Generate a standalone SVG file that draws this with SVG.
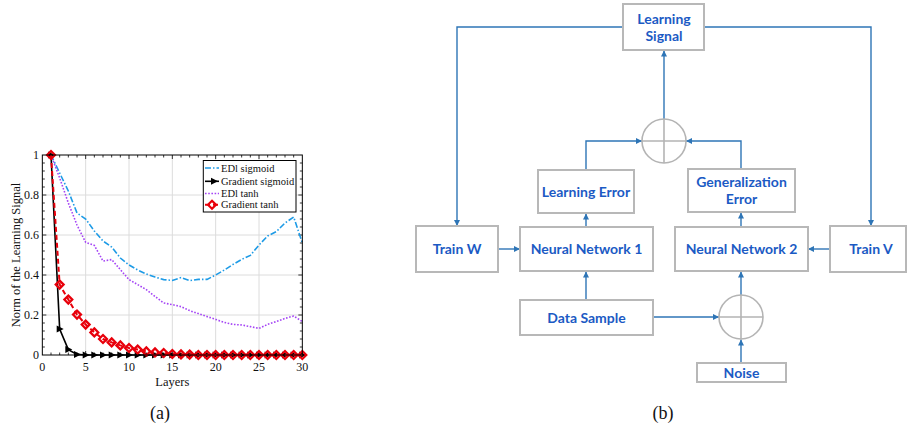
<svg xmlns="http://www.w3.org/2000/svg" xmlns:xlink="http://www.w3.org/1999/xlink" width="908" height="431" viewBox="0 0 908 431">
<style>
.serif{font-family:"Liberation Serif","Times New Roman",serif;fill:#111}
.tick{font-size:12px}
.leg{font-size:10.5px}
.grid{stroke:#dcdcdc;stroke-width:1;fill:none}
.frame{stroke:#000;stroke-width:1;fill:none}
.minor{stroke:#000;stroke-width:0.8}
.box{fill:#fff;stroke:#b8b8b8;stroke-width:2}
.lbl{font-family:Lato,"Open Sans","DejaVu Sans",sans-serif;font-weight:700;font-size:14px;fill:#1b5ac4;text-anchor:middle}
.conn{stroke:#2e75b6;stroke-width:1.4;fill:none}
.sum{fill:#fff;stroke:#b4b4b4;stroke-width:1.6}
.cross{stroke:#b4b4b4;stroke-width:1.6}
.edis{stroke:#1e9be6;stroke-width:1.6;fill:none;stroke-dasharray:6 2 1.5 2}
.edit{stroke:#a545f5;stroke-width:1.6;fill:none;stroke-dasharray:1.6 1.6}
.gs{stroke:#000;stroke-width:1.6;fill:none}
.gt{stroke:#e8000b;stroke-width:2;fill:none;stroke-dasharray:5 3}
.tri{fill:#000}
.dia{fill:none;stroke:#e8000b;stroke-width:2.2}
</style>
<defs>
<marker id="arr" viewBox="0 0 10 10" refX="10" refY="5" markerWidth="7" markerHeight="6" markerUnits="userSpaceOnUse" orient="auto">
<path d="M0,0 L10,5 L0,10 Z" fill="#2e75b6"/>
</marker>
<path id="t" class="tri" d="M-3,-3.5 L4,0 L-3,3.5 Z"/>
<path id="d" class="dia" d="M0,-4 L4,0 L0,4 L-4,0 Z"/>
</defs>

<!-- ===== Panel (a): plot ===== -->
<g id="plot-a">
<g id="grid">
<path class="grid" d="M85.67,155V355M129,155V355M172.33,155V355M215.67,155V355M259,155V355M42.33,195H302.33M42.33,235H302.33M42.33,275H302.33M42.33,315H302.33"/>
</g>
<g id="minor-ticks">
<path class="minor" d="M51,155v2.5M59.67,155v2.5M68.33,155v2.5M77,155v2.5M94.33,155v2.5M103,155v2.5M111.67,155v2.5M120.33,155v2.5M137.67,155v2.5M146.33,155v2.5M155,155v2.5M163.67,155v2.5M181,155v2.5M189.67,155v2.5M198.33,155v2.5M207,155v2.5M224.33,155v2.5M233,155v2.5M241.67,155v2.5M250.33,155v2.5M267.67,155v2.5M276.33,155v2.5M285,155v2.5M293.67,155v2.5"/>
<path class="minor" d="M51,355v-2.5M59.67,355v-2.5M68.33,355v-2.5M77,355v-2.5M94.33,355v-2.5M103,355v-2.5M111.67,355v-2.5M120.33,355v-2.5M137.67,355v-2.5M146.33,355v-2.5M155,355v-2.5M163.67,355v-2.5M181,355v-2.5M189.67,355v-2.5M198.33,355v-2.5M207,355v-2.5M224.33,355v-2.5M233,355v-2.5M241.67,355v-2.5M250.33,355v-2.5M267.67,355v-2.5M276.33,355v-2.5M285,355v-2.5M293.67,355v-2.5"/>
<path class="minor" d="M302.33,163h-2.5M302.33,171h-2.5M302.33,179h-2.5M302.33,187h-2.5M302.33,203h-2.5M302.33,211h-2.5M302.33,219h-2.5M302.33,227h-2.5M302.33,243h-2.5M302.33,251h-2.5M302.33,259h-2.5M302.33,267h-2.5M302.33,283h-2.5M302.33,291h-2.5M302.33,299h-2.5M302.33,307h-2.5M302.33,323h-2.5M302.33,331h-2.5M302.33,339h-2.5M302.33,347h-2.5"/>
<path class="minor" d="M42.33,163h2.5M42.33,171h2.5M42.33,179h2.5M42.33,187h2.5M42.33,203h2.5M42.33,211h2.5M42.33,219h2.5M42.33,227h2.5M42.33,243h2.5M42.33,251h2.5M42.33,259h2.5M42.33,267h2.5M42.33,283h2.5M42.33,291h2.5M42.33,299h2.5M42.33,307h2.5M42.33,323h2.5M42.33,331h2.5M42.33,339h2.5M42.33,347h2.5"/>
<path class="minor" d="M85.67,155v4M129,155v4M172.33,155v4M215.67,155v4M259,155v4M85.67,355v-4M129,355v-4M172.33,355v-4M215.67,355v-4M259,355v-4M42.33,195h4M42.33,235h4M42.33,275h4M42.33,315h4M302.33,195h-4M302.33,235h-4M302.33,275h-4M302.33,315h-4"/>
</g>

<g id="curves">
<polyline class="edis" points="51,155 59.67,173 68.33,191 77,213 85.67,219 94.33,231 103,241 111.67,247 120.33,258 129,265 137.67,270 146.33,274 155,277 163.67,279.6 172.33,280.4 181,277.6 189.67,280.6 198.33,279.4 207,279.4 215.67,275 224.33,270 233,264.4 241.67,259.4 250.33,255.4 259,245 267.67,236 276.33,231.6 285,223 293.67,217 302.33,243"/>
<polyline class="edit" points="51,155 59.67,178 68.33,203 77,225 85.67,242.4 94.33,245.4 103,261 111.67,259.6 120.33,269.6 129,279.6 137.67,284.6 146.33,289.6 155,296.4 163.67,303 172.33,304.6 181,306.6 189.67,310.6 198.33,313.6 207,316.6 215.67,319.4 224.33,322.4 233,324.4 241.67,325 250.33,326.6 259,328.4 267.67,324.4 276.33,321.6 285,318.4 293.67,316 302.33,321.6"/>
<polyline class="gs" points="51,155 59.67,329 68.33,349.6 77,354.4 85.67,355 302.33,355"/>
<g id="tri-markers">
<use href="#t" x="51" y="155"/><use href="#t" x="59.67" y="329"/><use href="#t" x="68.33" y="349.6"/><use href="#t" x="77" y="354.4"/><use href="#t" x="85.67" y="355"/><use href="#t" x="94.33" y="355"/><use href="#t" x="103" y="355"/><use href="#t" x="111.67" y="355"/><use href="#t" x="120.33" y="355"/><use href="#t" x="129" y="355"/><use href="#t" x="137.67" y="355"/><use href="#t" x="146.33" y="355"/><use href="#t" x="155" y="355"/><use href="#t" x="163.67" y="355"/><use href="#t" x="172.33" y="355"/><use href="#t" x="181" y="355"/><use href="#t" x="189.67" y="355"/><use href="#t" x="198.33" y="355"/><use href="#t" x="207" y="355"/><use href="#t" x="215.67" y="355"/><use href="#t" x="224.33" y="355"/><use href="#t" x="233" y="355"/><use href="#t" x="241.67" y="355"/><use href="#t" x="250.33" y="355"/><use href="#t" x="259" y="355"/><use href="#t" x="267.67" y="355"/><use href="#t" x="276.33" y="355"/><use href="#t" x="285" y="355"/><use href="#t" x="293.67" y="355"/><use href="#t" x="302.33" y="355"/>
</g>
<polyline class="gt" points="51,155 59.67,284.6 68.33,299.6 77,314.6 85.67,324.6 94.33,332.4 103,339 111.67,342.4 120.33,345.4 129,348 137.67,349.6 146.33,351.4 155,352.4 163.67,353 172.33,354 181,354.4 189.67,354.6 198.33,355 302.33,355"/>
<g id="dia-markers">
<use href="#d" x="51" y="155"/><use href="#d" x="59.67" y="284.6"/><use href="#d" x="68.33" y="299.6"/><use href="#d" x="77" y="314.6"/><use href="#d" x="85.67" y="324.6"/><use href="#d" x="94.33" y="332.4"/><use href="#d" x="103" y="339"/><use href="#d" x="111.67" y="342.4"/><use href="#d" x="120.33" y="345.4"/><use href="#d" x="129" y="348"/><use href="#d" x="137.67" y="349.6"/><use href="#d" x="146.33" y="351.4"/><use href="#d" x="155" y="352.4"/><use href="#d" x="163.67" y="353"/><use href="#d" x="172.33" y="354"/><use href="#d" x="181" y="354.4"/><use href="#d" x="189.67" y="354.6"/><use href="#d" x="198.33" y="355"/><use href="#d" x="207" y="355"/><use href="#d" x="215.67" y="355"/><use href="#d" x="224.33" y="355"/><use href="#d" x="233" y="355"/><use href="#d" x="241.67" y="355"/><use href="#d" x="250.33" y="355"/><use href="#d" x="259" y="355"/><use href="#d" x="267.67" y="355"/><use href="#d" x="276.33" y="355"/><use href="#d" x="285" y="355"/><use href="#d" x="293.67" y="355"/><use href="#d" x="302.33" y="355"/>
</g>
</g>

<rect class="frame" x="42.33" y="155" width="260" height="200"/>

<g id="y-ticklabels" class="serif tick" text-anchor="end">
<text x="39" y="159">1</text>
<text x="39" y="199">0.8</text>
<text x="39" y="239">0.6</text>
<text x="39" y="279">0.4</text>
<text x="39" y="319">0.2</text>
<text x="39" y="359">0</text>
</g>
<g id="x-ticklabels" class="serif tick" text-anchor="middle">
<text x="42.33" y="370.5">0</text>
<text x="85.67" y="370.5">5</text>
<text x="129" y="370.5">10</text>
<text x="172.33" y="370.5">15</text>
<text x="215.67" y="370.5">20</text>
<text x="259" y="370.5">25</text>
<text x="302.33" y="370.5">30</text>
</g>
<text class="serif" font-size="12.5" x="172.3" y="385.5" text-anchor="middle">Layers</text>
<text class="serif" font-size="12.5" transform="translate(20,255) rotate(-90)" text-anchor="middle">Norm of the Learning Signal</text>

<g id="legend">
<rect x="203.3" y="160.5" width="92.7" height="51.5" fill="#fff" stroke="#000" stroke-width="1"/>
<line class="edis" x1="205" y1="168" x2="219" y2="168" stroke-dasharray="4 1.5 1.5 1.5"/>
<line class="gs" x1="205" y1="181.3" x2="219" y2="181.3"/>
<use href="#t" x="214" y="181.3"/>
<line class="edit" x1="205" y1="193.5" x2="219" y2="193.5"/>
<line class="gt" x1="205" y1="204.7" x2="219" y2="204.7" stroke-dasharray="none"/>
<use href="#d" x="212" y="204.7"/>
<g class="serif leg">
<text x="221" y="171.5">EDl sigmoid</text>
<text x="221" y="184.8">Gradient sigmoid</text>
<text x="221" y="197">EDl tanh</text>
<text x="221" y="208.2">Gradient tanh</text>
</g>
</g>
<text class="serif" font-size="18" x="160" y="419" text-anchor="middle">(a)</text>
</g>

<!-- ===== Panel (b): block diagram ===== -->
<g id="connectors">
<polyline class="conn" points="623,27 457,27 457,226" marker-end="url(#arr)"/>
<polyline class="conn" points="704,27 871,27 871,226" marker-end="url(#arr)"/>
<line class="conn" x1="664" y1="119" x2="664" y2="50.5" marker-end="url(#arr)"/>
<polyline class="conn" points="586,170 586,141 642,141" marker-end="url(#arr)"/>
<polyline class="conn" points="741,169 741,141 686,141" marker-end="url(#arr)"/>
<line class="conn" x1="498" y1="249" x2="520" y2="249" marker-end="url(#arr)"/>
<line class="conn" x1="586" y1="227" x2="586" y2="213.5" marker-end="url(#arr)"/>
<line class="conn" x1="741" y1="227" x2="741" y2="212.5" marker-end="url(#arr)"/>
<line class="conn" x1="830" y1="249" x2="808" y2="249" marker-end="url(#arr)"/>
<line class="conn" x1="586" y1="300" x2="586" y2="271.5" marker-end="url(#arr)"/>
<line class="conn" x1="653" y1="317" x2="719" y2="317" marker-end="url(#arr)"/>
<line class="conn" x1="741" y1="295" x2="741" y2="271.5" marker-end="url(#arr)"/>
<line class="conn" x1="741" y1="363" x2="741" y2="339.5" marker-end="url(#arr)"/>
</g>

<g id="learning-signal">
<rect class="box" x="623" y="4" width="81" height="46"/>
<text class="lbl" x="664" y="23.5">Learning</text>
<text class="lbl" x="664" y="40.5">Signal</text>
</g>
<g id="sum-top">
<circle class="sum" cx="664" cy="141" r="22"/>
<path class="cross" d="M642,141H686M664,119V163"/>
</g>
<g id="learning-error">
<rect class="box" x="538" y="170" width="96" height="43"/>
<text class="lbl" x="586" y="196.5">Learning Error</text>
</g>
<g id="generalization-error">
<rect class="box" x="688" y="169" width="107" height="43"/>
<text class="lbl" x="741.5" y="187">Generalization</text>
<text class="lbl" x="741.5" y="204">Error</text>
</g>
<g id="train-w">
<rect class="box" x="416" y="226" width="82" height="46"/>
<text class="lbl" x="457" y="254">Train W</text>
</g>
<g id="neural-network-1">
<rect class="box" x="520" y="227" width="133" height="44"/>
<text class="lbl" x="586.5" y="254">Neural Network 1</text>
</g>
<g id="neural-network-2">
<rect class="box" x="675" y="227" width="133" height="44"/>
<text class="lbl" x="741.5" y="254">Neural Network 2</text>
</g>
<g id="train-v">
<rect class="box" x="830" y="226" width="76" height="46"/>
<text class="lbl" x="871" y="254">Train V</text>
</g>
<g id="data-sample">
<rect class="box" x="520" y="300" width="133" height="35"/>
<text class="lbl" x="586.5" y="322.5">Data Sample</text>
</g>
<g id="sum-bottom">
<circle class="sum" cx="741" cy="317" r="22"/>
<path class="cross" d="M719,317H763M741,295V339"/>
</g>
<g id="noise">
<rect class="box" x="697" y="363" width="89" height="19"/>
<text class="lbl" x="741.5" y="377.8">Noise</text>
</g>
<text class="serif" font-size="18" x="663" y="419" text-anchor="middle">(b)</text>
</svg>
